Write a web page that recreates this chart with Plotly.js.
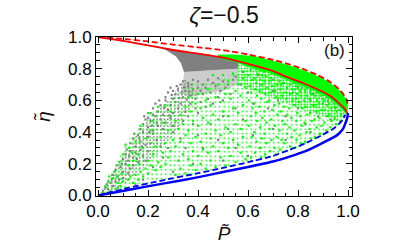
<!DOCTYPE html>
<html>
<head>
<meta charset="utf-8">
<script src="https://cdn.plot.ly/plotly-3.0.1.min.js"></script>
<style>html,body{margin:0;padding:0;background:#fff;}#chart{width:400px;height:250px;}</style>
</head>
<body>
<div id="chart"></div>
<script>
// ---- curves ----
var redSolidP   = [0, 0.1, 0.2, 0.3, 0.4, 0.5, 0.6, 0.7, 0.76, 0.82, 0.87, 0.91, 0.94, 0.965, 0.985, 0.997];
var redSolidEta = [1.0, 0.975, 0.947, 0.918, 0.895, 0.87, 0.83, 0.785, 0.745, 0.71, 0.675, 0.645, 0.615, 0.58, 0.55, 0.52];

var redDashP   = [0, 0.1, 0.2, 0.3, 0.4, 0.5, 0.6, 0.7, 0.77, 0.83, 0.88, 0.92, 0.95, 0.97, 0.985, 0.995, 1.0];
var redDashEta = [1.0, 0.988, 0.972, 0.952, 0.935, 0.917, 0.89, 0.856, 0.825, 0.792, 0.758, 0.725, 0.69, 0.66, 0.63, 0.6, 0.565];

var blueSolidP   = [0, 0.125, 0.259, 0.392, 0.5, 0.6, 0.7, 0.763, 0.83, 0.896, 0.94, 0.963, 0.98, 0.989, 0.997, 1.0];
var blueSolidEta = [0, 0.037, 0.075, 0.113, 0.148, 0.18, 0.215, 0.244, 0.28, 0.33, 0.365, 0.39, 0.42, 0.454, 0.49, 0.52];

var blueDashP   = [0, 0.125, 0.259, 0.392, 0.5, 0.6, 0.7, 0.763, 0.83, 0.896, 0.94, 0.963, 0.98, 0.989];
var blueDashEta = [0, 0.05, 0.096, 0.138, 0.174, 0.21, 0.25, 0.286, 0.33, 0.381, 0.42, 0.45, 0.48, 0.51];

// ---- outlines of the point clouds ----
var greenBandP   = [0.48, 0.55, 0.63, 0.7, 0.77, 0.83, 0.88, 0.92, 0.95, 0.97, 0.985, 0.995, 1.0, 0.997, 0.985, 0.965, 0.94, 0.91, 0.87, 0.82, 0.76, 0.7, 0.6, 0.55, 0.5, 0.48];
var greenBandEta = [0.889, 0.89, 0.878, 0.85, 0.819, 0.786, 0.752, 0.72, 0.685, 0.655, 0.625, 0.595, 0.56, 0.51, 0.53, 0.56, 0.595, 0.625, 0.655, 0.69, 0.725, 0.765, 0.81, 0.84, 0.86, 0.87];

var greenSpreadP   = [0.01, 0.04, 0.11, 0.21, 0.27, 0.32, 0.36, 0.46, 0.56, 0.6, 0.7, 0.76, 0.82, 0.87, 0.91, 0.94, 0.965, 0.985, 0.997, 0.989, 0.98, 0.963, 0.94, 0.896, 0.83, 0.763, 0.7, 0.6, 0.5, 0.392, 0.259, 0.125, 0.02];
var greenSpreadEta = [0.0, 0.1, 0.33, 0.52, 0.58, 0.65, 0.7, 0.72, 0.78, 0.83, 0.785, 0.745, 0.71, 0.675, 0.645, 0.615, 0.58, 0.55, 0.52, 0.5, 0.47, 0.44, 0.41, 0.37, 0.32, 0.28, 0.245, 0.205, 0.17, 0.135, 0.095, 0.05, 0.005];

var greenNearP   = [0.56, 0.6, 0.7, 0.76, 0.82, 0.87, 0.91, 0.94, 0.965, 0.985, 0.997, 0.98, 0.95, 0.9, 0.82, 0.72, 0.62, 0.56];
var greenNearEta = [0.85, 0.83, 0.785, 0.745, 0.71, 0.675, 0.645, 0.615, 0.58, 0.55, 0.52, 0.49, 0.47, 0.5, 0.54, 0.6, 0.66, 0.7];

var grayDenseP   = [0.259, 0.3, 0.4, 0.5, 0.56, 0.56, 0.45, 0.345, 0.341, 0.332, 0.312, 0.259];
var grayDenseEta = [0.93, 0.918, 0.895, 0.87, 0.85, 0.8, 0.79, 0.78, 0.792, 0.834, 0.877, 0.93];

var grayMidP   = [0.345, 0.45, 0.56, 0.56, 0.5, 0.42, 0.36, 0.335, 0.34];
var grayMidEta = [0.78, 0.79, 0.8, 0.7, 0.66, 0.64, 0.62, 0.66, 0.72];

var grayBandP   = [0.005, 0.04, 0.08, 0.12, 0.16, 0.2, 0.25, 0.3, 0.33, 0.345, 0.4, 0.36, 0.31, 0.25, 0.18, 0.11, 0.05, 0.02];
var grayBandEta = [0.005, 0.1, 0.2, 0.3, 0.4, 0.48, 0.56, 0.64, 0.7, 0.74, 0.64, 0.52, 0.4, 0.28, 0.17, 0.08, 0.025, 0.005];

// ---- individual scattered points [P, eta] ----
var grayPts = [
 [0.02,0.03],[0.03,0.05],[0.04,0.04],[0.05,0.08],[0.035,0.07],[0.06,0.06],[0.07,0.09],[0.045,0.02],[0.08,0.05],[0.055,0.1],
 [0.06,0.13],[0.07,0.16],[0.08,0.12],[0.09,0.18],[0.1,0.15],[0.11,0.2],[0.12,0.14],[0.085,0.1],[0.13,0.17],[0.075,0.19],[0.1,0.11],[0.14,0.19],[0.095,0.2],
 [0.1,0.23],[0.11,0.26],[0.12,0.22],[0.13,0.28],[0.14,0.24],[0.15,0.27],[0.16,0.21],[0.17,0.29],[0.115,0.29],[0.18,0.25],[0.2,0.28],[0.125,0.25],[0.155,0.23],[0.19,0.22],
 [0.13,0.33],[0.14,0.36],[0.15,0.31],[0.16,0.38],[0.17,0.34],[0.18,0.4],[0.19,0.32],[0.2,0.37],[0.21,0.33],[0.22,0.39],[0.145,0.39],[0.175,0.31],[0.235,0.35],[0.25,0.31],[0.165,0.36],[0.205,0.4],
 [0.17,0.42],[0.18,0.45],[0.19,0.48],[0.2,0.43],[0.21,0.47],[0.22,0.41],[0.23,0.5],[0.24,0.44],[0.25,0.48],[0.26,0.42],[0.185,0.5],[0.215,0.44],[0.27,0.46],[0.29,0.49],[0.235,0.46],[0.2,0.49],[0.3,0.44],
 [0.21,0.52],[0.22,0.55],[0.23,0.58],[0.24,0.53],[0.25,0.57],[0.26,0.51],[0.27,0.6],[0.28,0.54],[0.29,0.57],[0.3,0.52],[0.31,0.59],[0.32,0.55],[0.245,0.6],[0.265,0.555],[0.285,0.505],[0.33,0.58],[0.35,0.53],[0.22,0.51],
 [0.27,0.62],[0.28,0.65],[0.29,0.68],[0.3,0.61],[0.31,0.64],[0.32,0.67],[0.33,0.7],[0.34,0.62],[0.35,0.66],[0.36,0.69],[0.37,0.63],[0.38,0.67],[0.295,0.635],[0.315,0.69],[0.325,0.615],[0.345,0.685],[0.355,0.605],[0.365,0.655],[0.39,0.61],[0.4,0.68],[0.42,0.64],[0.3,0.66],[0.335,0.65],[0.375,0.7],
 [0.34,0.72],[0.36,0.71],[0.38,0.73],[0.4,0.72],[0.42,0.7],[0.44,0.73],[0.46,0.71],[0.48,0.74],[0.5,0.72],[0.52,0.7],[0.54,0.73],[0.41,0.66],[0.43,0.68],[0.45,0.65],[0.47,0.69],[0.49,0.66],[0.51,0.68],[0.53,0.64],[0.44,0.61],[0.46,0.58],[0.48,0.62],[0.5,0.6],[0.37,0.58],[0.39,0.55],[0.41,0.59],[0.43,0.56],[0.4,0.52],[0.36,0.5],[0.34,0.47],[0.38,0.45],
 [0.3,0.4],[0.33,0.36],[0.28,0.3],[0.26,0.24],[0.22,0.18],[0.35,0.3],[0.4,0.38],[0.45,0.45],[0.5,0.5],[0.55,0.55],[0.42,0.3],[0.48,0.35],[0.52,0.42],[0.58,0.48],[0.62,0.58],[0.6,0.65],[0.65,0.7],[0.7,0.66],[0.68,0.55],[0.72,0.6],[0.75,0.5],[0.8,0.55],[0.78,0.65],[0.85,0.6],[0.88,0.5],[0.9,0.58],[0.93,0.48],[0.83,0.45],[0.7,0.42],[0.62,0.38],[0.55,0.3],[0.65,0.3],[0.75,0.35],[0.85,0.4],[0.6,0.25],[0.5,0.22],[0.38,0.2],[0.3,0.15],[0.18,0.1],[0.15,0.07],[0.57,0.7],[0.64,0.76],[0.7,0.73],[0.74,0.71],[0.8,0.68],[0.86,0.64],[0.92,0.6],[0.95,0.55],[0.58,0.78],[0.55,0.75]
];

var greenLeftPts = [
 [0.02,0.02],[0.03,0.06],[0.04,0.09],[0.05,0.03],[0.06,0.11],[0.07,0.04],[0.08,0.08],[0.09,0.06],[0.1,0.09],[0.11,0.05],[0.12,0.1],[0.045,0.12],[0.065,0.15],[0.085,0.21],[0.1,0.26],[0.11,0.32],
 [0.13,0.12],[0.14,0.08],[0.15,0.13],[0.16,0.1],[0.17,0.15],[0.18,0.12],[0.19,0.17],[0.2,0.14],[0.21,0.19],[0.12,0.19],[0.14,0.22],[0.16,0.26],[0.18,0.3],[0.2,0.22],[0.22,0.26],[0.24,0.21],
 [0.23,0.16],[0.25,0.18],[0.27,0.2],[0.26,0.27],[0.28,0.24],[0.15,0.34],[0.17,0.44],[0.19,0.36],[0.21,0.41],[0.23,0.31],[0.25,0.37],[0.27,0.33],[0.29,0.28],[0.2,0.52],[0.22,0.47],[0.24,0.56],
 [0.26,0.46],[0.28,0.41],[0.3,0.35],[0.27,0.57],[0.29,0.53],[0.31,0.47],[0.125,0.3],[0.095,0.14],[0.075,0.12],[0.135,0.27],[0.165,0.2]
];

var greenMidPts = [
 [0.31,0.13],[0.33,0.17],[0.35,0.14],[0.37,0.19],[0.39,0.16],[0.41,0.2],[0.43,0.17],[0.45,0.22],[0.47,0.18],[0.49,0.24],[0.51,0.19],[0.53,0.25],[0.55,0.21],[0.57,0.27],[0.59,0.23],
 [0.32,0.22],[0.34,0.26],[0.36,0.23],[0.38,0.28],[0.4,0.25],[0.42,0.29],[0.44,0.27],[0.46,0.31],[0.48,0.28],[0.5,0.33],[0.52,0.3],[0.54,0.35],[0.56,0.32],[0.58,0.37],
 [0.31,0.31],[0.33,0.34],[0.35,0.38],[0.37,0.33],[0.39,0.37],[0.41,0.34],[0.43,0.39],[0.45,0.36],[0.47,0.41],[0.49,0.38],[0.51,0.43],[0.53,0.4],[0.55,0.45],[0.57,0.42],[0.59,0.47],
 [0.32,0.42],[0.34,0.45],[0.36,0.41],[0.38,0.47],[0.4,0.44],[0.42,0.49],[0.44,0.46],[0.46,0.51],[0.48,0.48],[0.5,0.53],[0.52,0.5],[0.54,0.55],[0.56,0.52],[0.58,0.57],
 [0.33,0.51],[0.35,0.56],[0.37,0.53],[0.39,0.58],[0.41,0.55],[0.43,0.6],[0.45,0.57],[0.47,0.62],[0.49,0.59],[0.51,0.64],[0.53,0.61],[0.55,0.66],[0.57,0.63],[0.59,0.68],
 [0.36,0.62],[0.4,0.64],[0.44,0.67],[0.48,0.7],[0.52,0.72],[0.56,0.7],[0.58,0.74],[0.54,0.77],[0.5,0.76],[0.46,0.76]
];

var greenRightPts = [
 [0.612,0.24],[0.606,0.31],[0.615,0.37],[0.603,0.44],[0.611,0.5],[0.618,0.55],[0.604,0.6],[0.613,0.65],[0.607,0.69],[0.616,0.73],[0.602,0.76],[0.61,0.79],[0.617,0.81],
 [0.628,0.27],[0.634,0.34],[0.625,0.4],[0.637,0.47],[0.631,0.52],[0.624,0.58],[0.636,0.63],[0.629,0.67],[0.633,0.71],[0.626,0.74],[0.638,0.77],[0.631,0.8],
 [0.652,0.24],[0.646,0.3],[0.655,0.36],[0.648,0.43],[0.657,0.49],[0.645,0.56],[0.653,0.61],[0.647,0.66],[0.656,0.7],[0.649,0.73],[0.654,0.76],[0.646,0.79],[0.651,0.81],
 [0.668,0.26],[0.674,0.33],[0.666,0.39],[0.673,0.46],[0.665,0.53],[0.677,0.59],[0.669,0.64],[0.675,0.68],[0.667,0.72],[0.672,0.75],[0.664,0.78],
 [0.688,0.28],[0.694,0.35],[0.686,0.42],[0.693,0.48],[0.697,0.54],[0.685,0.6],[0.691,0.65],[0.696,0.69],[0.687,0.72],[0.692,0.74],[0.695,0.77],[0.684,0.79],
 [0.712,0.26],[0.706,0.3],[0.715,0.37],[0.708,0.44],[0.717,0.51],[0.705,0.57],[0.713,0.62],[0.709,0.66],[0.716,0.7],[0.704,0.73],[0.711,0.76],[0.707,0.78],
 [0.728,0.29],[0.734,0.35],[0.726,0.41],[0.737,0.47],[0.731,0.53],[0.724,0.58],[0.736,0.63],[0.729,0.67],[0.733,0.7],[0.725,0.72],[0.735,0.75],[0.727,0.77],
 [0.752,0.28],[0.746,0.33],[0.755,0.39],[0.748,0.45],[0.757,0.51],[0.745,0.56],[0.753,0.61],[0.749,0.65],[0.756,0.68],[0.744,0.71],[0.751,0.74],
 [0.768,0.31],[0.774,0.37],[0.766,0.43],[0.773,0.49],[0.765,0.55],[0.777,0.6],[0.769,0.64],[0.775,0.67],[0.767,0.7],[0.772,0.72],[0.764,0.74],
 [0.788,0.3],[0.794,0.35],[0.786,0.41],[0.793,0.47],[0.797,0.52],[0.785,0.57],[0.791,0.61],[0.796,0.64],[0.787,0.67],[0.792,0.69],[0.784,0.71],
 [0.812,0.33],[0.806,0.38],[0.815,0.44],[0.808,0.5],[0.817,0.55],[0.805,0.59],[0.813,0.63],[0.809,0.66],[0.816,0.68],[0.804,0.7],
 [0.828,0.34],[0.834,0.4],[0.826,0.46],[0.837,0.51],[0.831,0.56],[0.824,0.6],[0.836,0.63],[0.829,0.66],[0.833,0.68],[0.825,0.7],
 [0.852,0.36],[0.846,0.42],[0.855,0.47],[0.848,0.52],[0.857,0.57],[0.845,0.61],[0.853,0.64],[0.849,0.66],[0.856,0.68],
 [0.868,0.37],[0.874,0.43],[0.866,0.48],[0.873,0.53],[0.865,0.57],[0.877,0.6],[0.869,0.63],[0.875,0.65],[0.864,0.67],
 [0.888,0.39],[0.894,0.44],[0.886,0.49],[0.893,0.54],[0.885,0.58],[0.896,0.61],[0.891,0.63],[0.884,0.65],
 [0.912,0.41],[0.906,0.46],[0.915,0.5],[0.908,0.54],[0.917,0.57],[0.905,0.6],[0.913,0.62],[0.909,0.64],
 [0.928,0.43],[0.934,0.47],[0.926,0.51],[0.933,0.55],[0.925,0.58],[0.936,0.6],[0.929,0.62],
 [0.952,0.45],[0.946,0.49],[0.955,0.53],[0.948,0.56],[0.944,0.58],[0.953,0.6],
 [0.968,0.47],[0.972,0.51],[0.965,0.54],[0.971,0.57],
 [0.984,0.5],[0.988,0.53],[0.982,0.55]
];

var xTicks = [0, 0.2, 0.4, 0.6, 0.8, 1.0];
var yTicks = [0, 0.2, 0.4, 0.6, 0.8, 1.0];

var GRAY = '#808080', GREEN = '#00ff00', RED = '#ff0000', BLUE = '#0000ff';

function pts(list, color) {
  return {x: list.map(function (d) { return d[0]; }), y: list.map(function (d) { return d[1]; }),
          type: 'scatter', mode: 'markers', hoverinfo: 'skip', showlegend: false,
          marker: {symbol: 'square', size: 2.2, color: color, line: {width: 0}}};
}
function stipple(px, py, color, size, solidity) {
  return {x: px, y: py, type: 'scatter', mode: 'none', fill: 'toself', hoverinfo: 'skip', showlegend: false,
          fillcolor: 'rgba(0,0,0,0)',
          fillpattern: {shape: '.', fgcolor: color, bgcolor: 'rgba(0,0,0,0)', size: size, solidity: solidity}};
}
function solidRegion(px, py, color) {
  return {x: px, y: py, type: 'scatter', mode: 'none', fill: 'toself', hoverinfo: 'skip', showlegend: false,
          fillcolor: color};
}
function curve(px, py, color, width, dash) {
  return {x: px, y: py, type: 'scatter', mode: 'lines', hoverinfo: 'skip', showlegend: false,
          line: {color: color, width: width, dash: dash, shape: 'spline', smoothing: 0.5}};
}

var data = [
  stipple(grayBandP, grayBandEta, GRAY, 3.5, 0.22),
  stipple(grayMidP, grayMidEta, GRAY, 2, 0.45),
  pts(grayPts, GRAY),
  solidRegion(grayDenseP, grayDenseEta, GRAY),
  stipple(greenSpreadP, greenSpreadEta, GREEN, 4.5, 0.12),
  stipple(greenNearP, greenNearEta, GREEN, 3, 0.3),
  pts(greenLeftPts, GREEN),
  pts(greenMidPts, GREEN),
  pts(greenRightPts, GREEN),
  solidRegion(greenBandP, greenBandEta, GREEN),
  curve(blueDashP, blueDashEta, BLUE, 1.8, '6px,3px'),
  curve(blueSolidP, blueSolidEta, BLUE, 2.5, 'solid'),
  curve(redDashP, redDashEta, RED, 1.8, '6px,3px'),
  curve(redSolidP, redSolidEta, RED, 1.8, 'solid')
];

var tickFont = {family: 'Liberation Sans, Arial, sans-serif', size: 17, color: '#000'};
var axisCommon = {
  showgrid: false, zeroline: false, showline: true, linecolor: '#000', linewidth: 1,
  mirror: 'allticks', ticks: 'inside', ticklen: 6, tickwidth: 1, tickcolor: '#000',
  tickfont: tickFont, tickformat: '.1f',
  minor: {dtick: 0.05, ticks: 'inside', ticklen: 3.5, tickwidth: 1, tickcolor: '#000', showgrid: false}
};

var layout = {
  width: 400, height: 250,
  margin: {l: 96, r: 48, t: 37, b: 54},
  paper_bgcolor: '#fff', plot_bgcolor: '#fff',
  showlegend: false,
  title: {text: '<i>ζ</i>=−0.5', font: {family: 'Liberation Sans, Arial, sans-serif', size: 23, color: '#111'},
          x: 0.5, xref: 'paper', xanchor: 'center', y: 0.94, yref: 'container', yanchor: 'middle'},
  xaxis: Object.assign({}, axisCommon, {
    range: [-0.008, 1.016], tickvals: xTicks,
    title: {text: '<i>P̃</i>', font: {family: 'Liberation Sans, DejaVu Sans, sans-serif', size: 19, color: '#111'}, standoff: 6}
  }),
  yaxis: Object.assign({}, axisCommon, {
    range: [-0.003, 1.0], tickvals: yTicks,
    title: {text: '<i>η̃</i>', font: {family: 'Liberation Sans, DejaVu Sans, sans-serif', size: 19, color: '#111'}, standoff: 12}
  }),
  annotations: [
    {text: '(b)', xref: 'paper', yref: 'paper', x: 0.93, y: 0.915, xanchor: 'center', yanchor: 'middle',
     showarrow: false, font: {family: 'Liberation Sans, Arial, sans-serif', size: 17, color: '#111'}}
  ]
};

Plotly.newPlot('chart', data, layout, {staticPlot: true, displayModeBar: false});
</script>
</body>
</html>
